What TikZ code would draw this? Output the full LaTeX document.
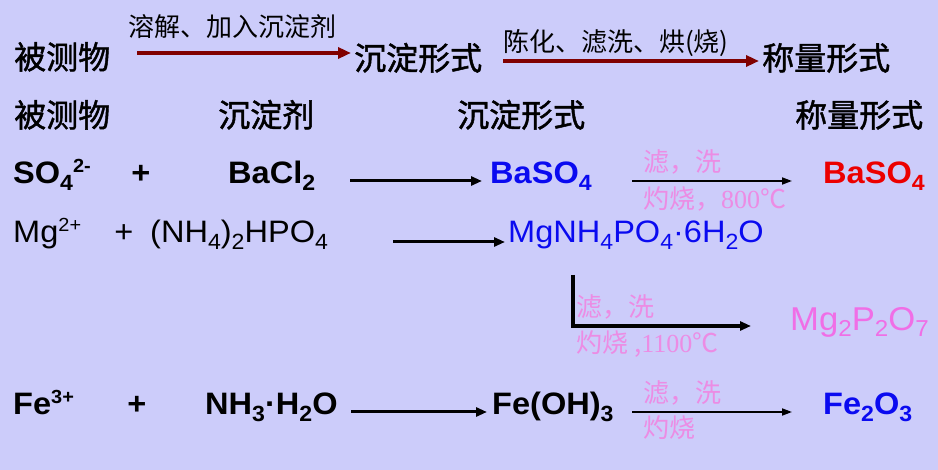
\documentclass[tikz,border=0pt]{standalone}
\usepackage{fontspec}
\setmainfont{Liberation Sans}[FakeStretch=1.05]
\newfontfamily\cjk{Noto Sans CJK SC}
\newfontfamily\cjkb{Noto Sans CJK SC}[FakeBold=1.4]
\newfontfamily\snum{Liberation Serif}
\usetikzlibrary{arrows.meta}
\definecolor{bg}{RGB}{204,204,250}
\definecolor{dred}{RGB}{128,0,0}
\definecolor{pblue}{RGB}{10,10,240}
\definecolor{pred}{RGB}{236,0,0}
\definecolor{ppink}{RGB}{236,140,228}
\definecolor{mpink}{RGB}{240,110,230}
\newcommand\lo[1]{\raisebox{-7pt}{\fontsize{22}{22}\selectfont #1}}
\newcommand\hi[1]{\raisebox{11pt}{\fontsize{19}{19}\selectfont #1}}
\newcommand\los[1]{\raisebox{-6pt}{\fontsize{23}{23}\selectfont #1}}
\tikzset{
  big/.style={anchor=base west, inner sep=0pt, font=\cjkb\fontsize{32}{32}\selectfont},
  lab/.style={anchor=base west, inner sep=0pt, font=\cjk\fontsize{26}{26}\selectfont},
  chem/.style={anchor=base west, inner sep=0pt, font=\fontsize{31}{31}\selectfont},
  chemb/.style={anchor=base west, inner sep=0pt, font=\bfseries\fontsize{31}{31}\selectfont},
  plus/.style={anchor=base, inner sep=0pt},
  note/.style={anchor=base west, inner sep=0pt, text=ppink, font=\cjk\fontsize{26}{26}\selectfont},
  redarrow/.style={dred, line width=4pt, -{Triangle[length=13pt,width=11pt]}},
  blkarrow/.style={black, line width=3pt, -{Triangle[length=11pt,width=9pt]}},
  thinarrow/.style={black, line width=1.8pt, -{Triangle[length=10pt,width=7pt]}},
  bentarrow/.style={black, line width=3.2pt, -{Triangle[length=11pt,width=9pt]}},
}
\begin{document}
\begin{tikzpicture}[x=1pt,y=-1pt]
\fill[bg] (0,0) rectangle (938,470);
\useasboundingbox (0,0) rectangle (938,470);
% Row 1
\node[big] (t1) at (14,69) {被测物};
\node[lab] (l1) at (128,37) {溶解、加入沉淀剂};
\node[big] (t2) at (354,70) {沉淀形式};
\node[lab] (l2) at (503,52) {陈化、滤洗、烘(烧)};
\node[big] (t3) at (762,70) {称量形式};
\coordinate (a1s) at (137,53);
\coordinate (a1e) at (351,53);
\coordinate (a2s) at (503,61);
\coordinate (a2e) at (759,61);
\draw[redarrow] (a1s) -- (a1e);
\draw[redarrow] (a2s) -- (a2e);
% Row 2
\node[big] (h1) at (14,127) {被测物};
\node[big] (h2) at (218,127) {沉淀剂};
\node[big] (h3) at (457,127) {沉淀形式};
\node[big] (h4) at (795,127) {称量形式};
% Row 3
\node[chemb] (so4) at (13,184) {SO\lo{4}\hi{2-}};
\node[chemb,plus] (p3) at (141,184) {+};
\node[chemb] (bacl) at (228,184) {BaCl\lo{2}};
\coordinate (b3s) at (350,181);
\coordinate (b3e) at (482,181);
\draw[blkarrow] (b3s) -- (b3e);
\node[chemb,text=pblue] (baso) at (490,184) {BaSO\lo{4}};
\coordinate (c3s) at (632,181);
\coordinate (c3e) at (792,181);
\draw[thinarrow] (c3s) -- (c3e);
\node[note] (n3a) at (643,172) {滤，洗};
\node[note] (n3b) at (643,209) {灼烧，{\snum 800}℃};
\node[chemb,text=pred] (baso2) at (823,184) {BaSO\lo{4}};
% Row 4
\node[chem] (mg) at (13,243) {Mg\hi{2+}};
\node[chem,plus] (p4) at (124,243) {+};
\node[chem] (nh4) at (150,243) {(NH\lo{4})\lo{2}HPO\lo{4}};
\coordinate (b4s) at (393,242);
\coordinate (b4e) at (505,242);
\draw[blkarrow] (b4s) -- (b4e);
\node[chem,text=pblue] (mgnh) at (508,243) {MgNH\lo{4}PO\lo{4}·6H\lo{2}O};
\coordinate (d4a) at (573,275);
\coordinate (d4b) at (573,326);
\coordinate (d4c) at (751,326);
\draw[bentarrow] (d4a) -- (d4b) -- (d4c);
\node[note] (n4a) at (576,317) {滤，洗};
\node[note] (n4b) at (576,353) {灼烧 ,{\snum 1100}℃};
\node[anchor=base west, inner sep=0pt, text=mpink, font=\fontsize{33}{33}\selectfont] (mgp) at (790,331) {Mg\los{2}P\los{2}O\los{7}};
% Row 5
\node[chemb] (fe) at (13,415) {Fe\hi{3+}};
\node[chemb,plus] (p5) at (137,415) {+};
\node[chemb] (nh3) at (205,415) {NH\lo{3}·H\lo{2}O};
\coordinate (b5s) at (351,412);
\coordinate (b5e) at (487,412);
\draw[blkarrow] (b5s) -- (b5e);
\node[chemb] (feoh) at (492,415) {Fe(OH)\lo{3}};
\coordinate (c5s) at (632,412);
\coordinate (c5e) at (792,412);
\draw[thinarrow] (c5s) -- (c5e);
\node[note] (n5a) at (643,403) {滤，洗};
\node[note] (n5b) at (643,438) {灼烧};
\node[chemb,text=pblue] (fe2o3) at (823,415) {Fe\lo{2}O\lo{3}};
\end{tikzpicture}
\end{document}
